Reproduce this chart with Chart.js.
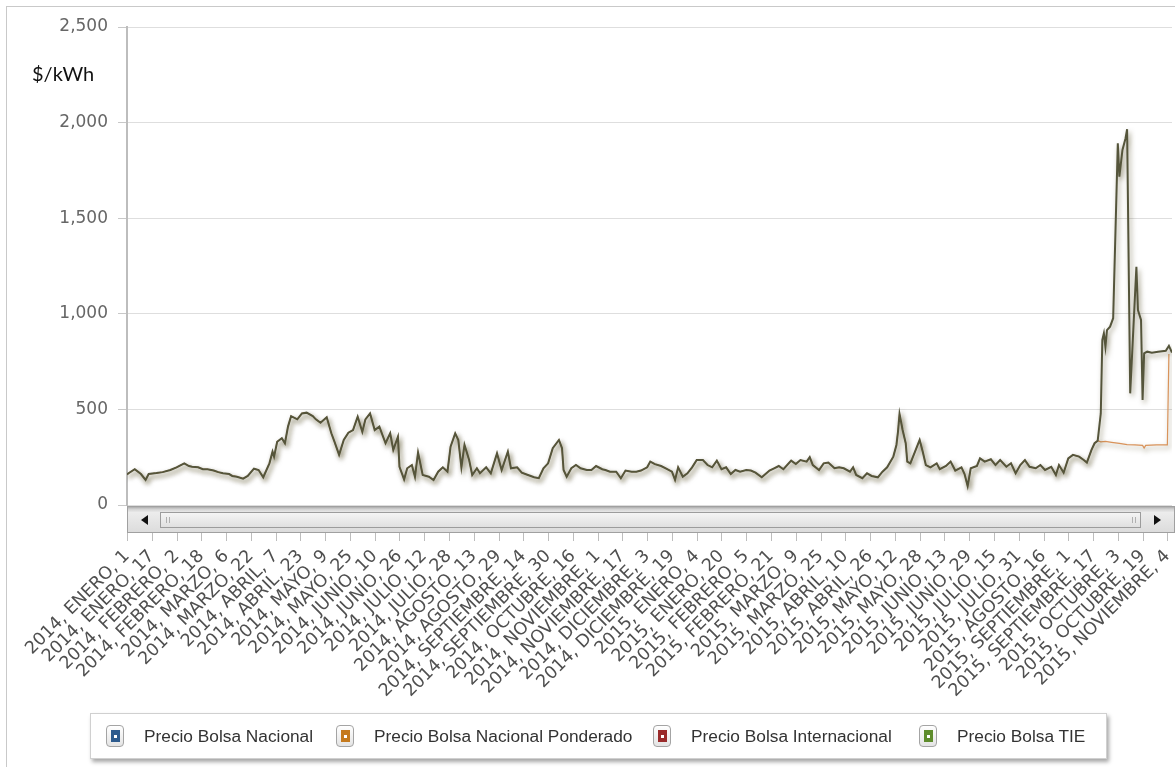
<!DOCTYPE html>
<html>
<head>
<meta charset="utf-8">
<script src="https://cdn.jsdelivr.net/npm/chart.js@4.4.1/dist/chart.umd.min.js"></script>
<style>
  html, body { margin: 0; padding: 0; background: #fff; }
  #wrap { position: relative; width: 1175px; height: 767px; overflow: hidden; }
  #frame { position: absolute; left: 6px; top: 6px; width: 1200px; height: 800px; border: 1px solid #c9c9c9; }
  #chart { position: absolute; left: 0; top: 0; }
  #legend {
    position: absolute; left: 90px; top: 713px; width: 1015px; height: 44px;
    background: #fff; border: 1px solid #d0d0d0;
    box-shadow: 2px 3px 4px rgba(0, 0, 0, 0.35);
    font-family: "Liberation Sans", Arial, sans-serif; font-size: 17.3px; color: #333;
  }
  .item { position: absolute; top: 0; height: 44px; display: flex; align-items: center; white-space: nowrap; }
  .mk {
    width: 16px; height: 20px; border: 1px solid #a4a4a4; border-radius: 4px; margin-right: 20px;
    display: flex; align-items: center; justify-content: center;
    background: linear-gradient(#ffffff, #e4e4e4);
  }
  .mk span { width: 9px; height: 12px; display: flex; align-items: center; justify-content: center; }
  .mk span i { width: 3px; height: 3px; background: #fff; display: block; }
</style>
</head>
<body>
<div id="wrap">
  <div id="frame"></div>
  <canvas id="chart" width="1175" height="712"></canvas>
  <div id="legend"></div>
</div>
<script>
// Precio de bolsa, datos diarios 2014-01-01 .. 2015-11
// x = dias desde 2014-01-01

const tickLabels = [
  "2014, ENERO, 1", "2014, ENERO, 17", "2014, FEBRERO, 2", "2014, FEBRERO, 18",
  "2014, MARZO, 6", "2014, MARZO, 22", "2014, ABRIL, 7", "2014, ABRIL, 23",
  "2014, MAYO, 9", "2014, MAYO, 25", "2014, JUNIO, 10", "2014, JUNIO, 26",
  "2014, JULIO, 12", "2014, JULIO, 28", "2014, AGOSTO, 13", "2014, AGOSTO, 29",
  "2014, SEPTIEMBRE, 14", "2014, SEPTIEMBRE, 30", "2014, OCTUBRE, 16", "2014, NOVIEMBRE, 1",
  "2014, NOVIEMBRE, 17", "2014, DICIEMBRE, 3", "2014, DICIEMBRE, 19", "2015, ENERO, 4",
  "2015, ENERO, 20", "2015, FEBRERO, 5", "2015, FEBRERO, 21", "2015, MARZO, 9",
  "2015, MARZO, 25", "2015, ABRIL, 10", "2015, ABRIL, 26", "2015, MAYO, 12",
  "2015, MAYO, 28", "2015, JUNIO, 13", "2015, JUNIO, 29", "2015, JULIO, 15",
  "2015, JULIO, 31", "2015, AGOSTO, 16", "2015, SEPTIEMBRE, 1", "2015, SEPTIEMBRE, 17",
  "2015, OCTUBRE, 3", "2015, OCTUBRE, 19", "2015, NOVIEMBRE, 4"
];
const tickStep = 16;
const lastDay = 675;

const days = [
  0, 1, 5, 9, 12, 14, 19, 23, 28, 32, 37, 40, 42, 46, 49, 52, 56, 59, 62, 66,
  68, 71, 75, 78, 82, 85, 88, 92, 94, 95, 97, 100, 102, 104, 106, 110, 113, 116, 120, 122,
  125, 129, 132, 134, 137, 140, 143, 146, 149, 152, 154, 157, 160, 163, 167, 170, 172, 175, 176, 179,
  181, 184, 186, 188, 191, 195, 198, 201, 204, 207, 209, 212, 214, 216, 218, 221, 223, 226, 228, 232,
  235, 239, 242, 246, 248, 252, 255, 259, 263, 266, 269, 272, 275, 279, 281, 282, 284, 287, 290, 293,
  297, 300, 303, 307, 309, 312, 316, 319, 322, 326, 329, 332, 336, 338, 341, 345, 348, 352, 354, 356,
  359, 362, 365, 368, 372, 375, 378, 381, 384, 387, 390, 393, 396, 400, 403, 406, 410, 413, 415, 418,
  421, 424, 429, 432, 435, 439, 441, 443, 447, 450, 453, 457, 460, 463, 467, 469, 471, 475, 478, 481,
  485, 488, 491, 495, 497, 498, 499, 501, 503, 504, 506, 509, 512, 514, 516, 519, 523, 525, 529, 532,
  535, 539, 541, 543, 545, 549, 551, 554, 558, 561, 564, 568, 571, 574, 577, 580, 583, 587, 590, 593,
  597, 600, 602, 605, 608, 611, 615, 618, 620, 623, 625, 627, 629, 630, 631, 632, 633, 635, 637, 640,
  641, 643, 645, 646, 648, 652, 653, 655, 656, 657, 659, 662, 666, 671, 673, 675
];
const bolsaNacional = [
  160, 166, 187, 162, 131, 162, 167, 172, 183, 197, 218, 204, 200, 197, 187, 187, 180, 172, 166, 162,
  152, 148, 138, 152, 190, 183, 145, 218, 279, 253, 331, 349, 323, 410, 465, 448, 479, 483, 465, 448,
  430, 459, 375, 331, 262, 340, 378, 392, 462, 383, 448, 479, 392, 410, 323, 375, 288, 357, 200, 134,
  192, 209, 148, 274, 157, 148, 131, 174, 197, 174, 305, 375, 340, 197, 314, 235, 157, 192, 166, 197,
  166, 270, 183, 279, 192, 197, 169, 157, 145, 140, 192, 218, 297, 340, 297, 183, 148, 192, 209, 192,
  183, 183, 204, 187, 183, 174, 174, 140, 180, 174, 174, 180, 197, 227, 214, 204, 192, 174, 131, 197,
  148, 166, 197, 235, 235, 209, 197, 232, 187, 197, 162, 183, 174, 183, 180, 169, 145, 166, 180, 192,
  204, 187, 232, 214, 235, 227, 250, 209, 183, 218, 222, 192, 197, 192, 174, 197, 157, 140, 166, 152,
  145, 174, 197, 253, 314, 383, 476, 392, 323, 227, 218, 279, 340, 279, 209, 197, 218, 187, 204, 227,
  180, 197, 162, 99, 192, 204, 244, 227, 239, 209, 235, 200, 218, 166, 209, 235, 200, 192, 209, 183,
  200, 157, 209, 169, 244, 262, 253, 235, 222, 288, 323, 336, 479, 863, 898, 828, 915, 933, 977, 1892,
  1717, 1857, 1918, 1965, 584, 1246, 1020, 968, 549, 793, 802, 797, 802, 807, 832, 797
];
// Ponderado: igual a la bolsa nacional hasta el dia 627, luego se separa
const ponderadoSplitDay = 627;
const ponderadoDays = [629, 632, 636, 641, 646, 651, 656, 657, 658, 665, 672, 673];
const ponderadoTail = [330, 333, 328, 322, 316, 314, 312, 298, 312, 314, 314, 790];

const seriesNames = ["Precio Bolsa Nacional", "Precio Bolsa Nacional Ponderado", "Precio Bolsa Internacional", "Precio Bolsa TIE"];
const seriesColors = ["#2d5b8e", "#c57a1e", "#9a2b2b", "#5e8c2c"];

const nacionalPts = days.map((d, i) => ({ x: d, y: bolsaNacional[i] }));
const ponderadoPts = nacionalPts.filter(p => p.x <= ponderadoSplitDay)
  .concat(ponderadoDays.map((d, i) => ({ x: d, y: ponderadoTail[i] })));

// soft drop shadow under the lines
const lineShadow = {
  id: "lineShadow",
  beforeDatasetDraw(chart) {
    const c = chart.ctx;
    c.save();
    c.shadowColor = "rgba(70, 62, 20, 0.5)";
    c.shadowBlur = 5;
    c.shadowOffsetX = 2;
    c.shadowOffsetY = 3;
  },
  afterDatasetDraw(chart) {
    chart.ctx.restore();
  }
};

// fake scrollbar + x tick marks + unit label
const decorations = {
  id: "decorations",
  afterDraw(chart) {
    const { ctx, chartArea: a } = chart;
    const top = a.bottom + 1, h = 26, left = a.left, right = a.right + 3;
    ctx.save();

    let g = ctx.createLinearGradient(0, top, 0, top + h);
    g.addColorStop(0, "#9a9a9a");
    g.addColorStop(0.12, "#d2d2d2");
    g.addColorStop(0.25, "#ececec");
    g.addColorStop(1, "#dcdcdc");
    ctx.fillStyle = g;
    ctx.fillRect(left, top, right - left, h);

    // thumb
    const tL = left + 33, tR = right - 34;
    g = ctx.createLinearGradient(0, top + 6, 0, top + h - 4);
    g.addColorStop(0, "#f6f6f6");
    g.addColorStop(1, "#dedede");
    ctx.fillStyle = g;
    ctx.fillRect(tL, top + 6, tR - tL, h - 10);
    ctx.strokeStyle = "#9c9c9c";
    ctx.lineWidth = 1;
    ctx.strokeRect(tL + 0.5, top + 6.5, tR - tL - 1, h - 11);
    ctx.strokeStyle = "#b0b0b0";
    [tL + 6, tL + 9, tR - 9, tR - 6].forEach(x => {
      ctx.beginPath();
      ctx.moveTo(x + 0.5, top + 11);
      ctx.lineTo(x + 0.5, top + h - 9);
      ctx.stroke();
    });

    // arrows
    ctx.fillStyle = "#111";
    const my = top + h / 2 + 1;
    ctx.beginPath();
    ctx.moveTo(left + 14, my); ctx.lineTo(left + 21, my - 5); ctx.lineTo(left + 21, my + 5);
    ctx.fill();
    ctx.beginPath();
    ctx.moveTo(right - 14, my); ctx.lineTo(right - 21, my - 5); ctx.lineTo(right - 21, my + 5);
    ctx.fill();

    ctx.strokeStyle = "#a0a0a0";
    ctx.strokeRect(left + 0.5, top + 0.5, right - left - 1, h);

    // x tick marks below the scrollbar
    const xs = chart.scales.x;
    ctx.strokeStyle = "#bdbdbd";
    xs.ticks.forEach(t => {
      const x = Math.round(xs.getPixelForValue(t.value)) + 0.5;
      ctx.beginPath();
      ctx.moveTo(x, top + h + 1);
      ctx.lineTo(x, top + h + 9);
      ctx.stroke();
    });

    // unit
    ctx.fillStyle = "#111";
    ctx.font = "20px Lato";
    ctx.textBaseline = "middle";
    ctx.fillText("$/kWh", 32, 75);
    ctx.restore();
  }
};

new Chart(document.getElementById("chart"), {
  type: "line",
  data: {
    datasets: [
      {
        label: seriesNames[0],
        data: nacionalPts,
        borderColor: "#55553b",
        borderWidth: 2,
        pointRadius: 0,
        tension: 0
      },
      {
        label: seriesNames[1],
        data: ponderadoPts,
        borderColor: "#d9935a",
        borderWidth: 1.2,
        pointRadius: 0,
        tension: 0
      }
    ]
  },
  options: {
    responsive: false,
    animation: false,
    layout: { padding: { top: 27, right: 3, left: 0, bottom: 0 } },
    plugins: {
      legend: { display: false },
      tooltip: { enabled: false }
    },
    scales: {
      x: {
        type: "linear",
        min: 0,
        max: lastDay,
        grid: { display: false, drawTicks: false },
        border: { display: false },
        afterBuildTicks: s => { s.ticks = tickLabels.map((_, i) => ({ value: i * tickStep })); },
        afterFit: s => { s.height = 712 - 505; s.paddingLeft = 0; s.paddingRight = 0; },
        ticks: {
          autoSkip: false,
          maxRotation: 45,
          minRotation: 45,
          padding: 41,
          color: "#4f4f4f",
          font: { family: "DejaVu Sans", size: 17.5 },
          callback: v => tickLabels[Math.round(v / tickStep)]
        }
      },
      y: {
        min: 0,
        max: 2500,
        afterFit: s => { s.width = 127; },
        grid: { color: "#dedede", tickLength: 9, tickColor: "#c8c8c8" },
        border: { color: "#bdbdbd", width: 2 },
        ticks: {
          stepSize: 500,
          padding: 10,
          color: "#666",
          font: { family: "DejaVu Sans", size: 17 },
          callback: v => v.toLocaleString("en-US")
        }
      }
    }
  },
  plugins: [lineShadow, decorations]
});

// legend (four series, as in the original)
const legendX = [105, 335, 652, 918];
const legend = document.getElementById("legend");
seriesNames.forEach((name, i) => {
  const it = document.createElement("div");
  it.className = "item";
  it.style.left = (legendX[i] - 90) + "px";
  it.innerHTML = '<div class="mk"><span style="background:' + seriesColors[i] + '"><i></i></span></div>' + name;
  legend.appendChild(it);
});
</script>
</body>
</html>
